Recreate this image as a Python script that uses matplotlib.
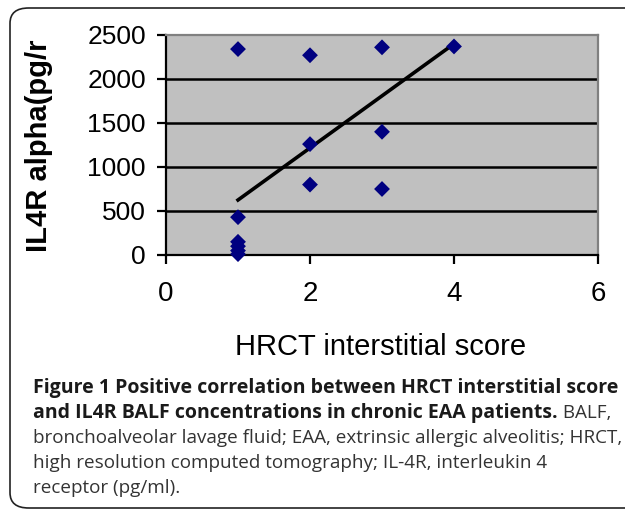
import numpy as np
import matplotlib.pyplot as plt
from matplotlib.patches import FancyBboxPatch

# data
hrct_score = [1, 1, 1, 1, 1, 1, 2, 2, 2, 3, 3, 3, 4]
il4r_alpha = [2340, 430, 150, 100, 50, 10, 2270, 1260, 800, 2360, 1400, 750, 2370]
trend_x = [1, 4]
trend_y = [625, 2400]
x_ticks = [0, 2, 4, 6]
y_ticks = [0, 500, 1000, 1500, 2000, 2500]

caption_bold = ["Figure 1 Positive correlation between HRCT interstitial score",
                "and IL4R BALF concentrations in chronic EAA patients."]
caption_tail = " BALF,"
caption_rest = ["bronchoalveolar lavage fluid; EAA, extrinsic allergic alveolitis; HRCT,",
                "high resolution computed tomography; IL-4R, interleukin 4",
                "receptor (pg/ml)."]

W, H = 625, 509
fig = plt.figure(figsize=(W / 100, H / 100), dpi=100)

# rounded outer frame (right side runs off the image)
frame = FancyBboxPatch((10 / W, 1 / H), 640 / W, 500 / H,
                       boxstyle="round,pad=0,rounding_size=0.03",
                       transform=fig.transFigure, fill=False,
                       edgecolor='#222222', lw=1.2)
fig.patches.append(frame)

ax = fig.add_axes([166 / W, 1 - 255 / H, 432 / W, 220 / H])
ax.set_facecolor('#c0c0c0')
ax.set_xlim(0, 6)
ax.set_ylim(0, 2500)
ax.set_xticks(x_ticks)
ax.set_yticks(y_ticks)

for y in y_ticks[1:-1]:
    ax.axhline(y, color='black', lw=1.8, zorder=1)

ax.plot(trend_x, trend_y, color='black', lw=2.6, zorder=2)
ax.scatter(hrct_score, il4r_alpha, marker='D', s=65, color='#000080',
           edgecolors='none', zorder=3, clip_on=False)

for side in ['left', 'bottom']:
    ax.spines[side].set_color('black')
    ax.spines[side].set_linewidth(1.6)
for side in ['top', 'right']:
    ax.spines[side].set_color('#808080')
    ax.spines[side].set_linewidth(1.6)

ax.tick_params(axis='both', direction='out', length=6.5, width=1.6, color='black')
ax.tick_params(axis='y', labelsize=19, pad=8)
ax.tick_params(axis='x', labelsize=20, pad=12)
for lab in ax.get_yticklabels() + ax.get_xticklabels():
    lab.set_family('Liberation Sans')

ax.set_ylabel('IL4R alpha(pg/r', fontsize=21, fontweight='bold',
              family='Liberation Sans')
ax.yaxis.set_label_coords(-0.262, 0.495)

fig.text(381 / W, 1 - 355 / H, 'HRCT interstitial score', fontsize=21,
         family='Liberation Sans', ha='center', va='baseline')

# caption
x0 = 33 / W
ys = [393, 418, 443, 468, 493]
for i, line in enumerate(caption_bold):
    t = fig.text(x0, 1 - ys[i] / H, line, fontsize=14, fontweight='bold',
                 family='Open Sans', va='baseline', ha='left', color='#1a1a1a')
fig.canvas.draw()
bb = t.get_window_extent()
fig.text(bb.x1 / W, 1 - ys[1] / H, caption_tail, fontsize=13.6,
         family='Open Sans', va='baseline', ha='left', color='#333333')
for i, line in enumerate(caption_rest):
    fig.text(x0, 1 - ys[i + 2] / H, line, fontsize=13.6,
             family='Open Sans', va='baseline', ha='left', color='#333333')

fig.savefig('out.png', dpi=100)
